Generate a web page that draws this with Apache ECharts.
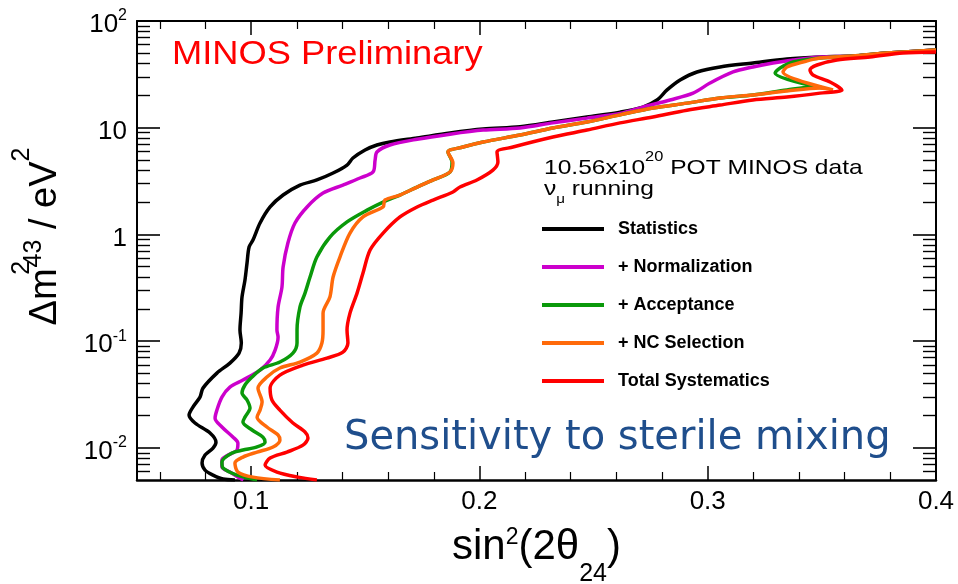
<!DOCTYPE html>
<html>
<head>
<meta charset="utf-8">
<script src="https://cdn.jsdelivr.net/npm/echarts@6/dist/echarts.min.js"></script>
<style>
  html, body { margin: 0; padding: 0; background: #ffffff; }
  #chart { width: 958px; height: 584px; }
</style>
</head>
<body>
<div id="chart"></div>
<script>
// Exclusion contours: [sin^2(2θ24), Δm^2_43 (eV^2)], from the bottom of the range upward.
const curveNames = ['Statistics', '+ Normalization', '+ Acceptance', '+ NC Selection', 'Total Systematics'];

const statistics = [
  [0.0929,0.005],[0.0877,0.0051],[0.0833,0.00556],[0.0798,0.00619],[0.0785,0.0072],[0.0798,0.00856],
  [0.0833,0.00996],[0.0846,0.0113],[0.082,0.0138],[0.0754,0.0171],[0.0728,0.0203],[0.0745,0.0241],
  [0.0776,0.0299],[0.0789,0.0363],[0.085,0.0502],[0.0907,0.0623],[0.0947,0.0773],[0.0957,0.096],
  [0.0951,0.127],[0.0956,0.183],[0.096,0.259],[0.0973,0.374],[0.0982,0.54],[0.0991,0.762],
  [0.1008,0.886],[0.1039,1.28],[0.1083,1.81],[0.114,2.34],[0.1214,2.9],[0.1288,3.24],[0.1359,3.76],
  [0.142,4.47],[0.1446,5.2],[0.1499,6.18],[0.1551,6.89],[0.1608,7.35],[0.1727,8.01],[0.1871,8.92],
  [0.2016,9.72],[0.2178,10.2],[0.2322,11.3],[0.2471,12.6],[0.2616,14.0],[0.2716,15.6],[0.2778,18.2],
  [0.2822,22.6],[0.2879,28.0],[0.2953,33.3],[0.3054,37.1],[0.3198,40.4],[0.3347,44.0],[0.3492,46.0],
  [0.3636,47.0],[0.3785,50.1],[0.4,53.5]
];

const normalization = [
  [0.0966,0.005],[0.0938,0.0054],[0.0907,0.00593],[0.0872,0.00661],[0.0872,0.00769],[0.0899,0.00856],
  [0.0938,0.00954],[0.0942,0.0111],[0.0921,0.0126],[0.0872,0.0157],[0.0842,0.019],[0.085,0.0226],
  [0.0872,0.0299],[0.0907,0.0371],[0.0964,0.0432],[0.1039,0.0536],[0.1083,0.0665],[0.1105,0.0825],
  [0.1118,0.109],[0.1113,0.127],[0.1118,0.209],[0.1135,0.321],[0.114,0.495],[0.1161,0.831],
  [0.1192,1.28],[0.1245,1.81],[0.1315,2.44],[0.1402,2.9],[0.1477,3.38],[0.1534,3.85],[0.1543,4.98],
  [0.1551,5.92],[0.1608,6.89],[0.1727,7.8],[0.1871,8.7],[0.2016,9.5],[0.2178,9.94],[0.2322,11.1],
  [0.2471,12.3],[0.2616,13.6],[0.2716,15.6],[0.2835,18.2],[0.2936,21.1],[0.301,26.2],[0.3111,33.3],
  [0.3198,37.1],[0.3286,40.4],[0.3374,43.1],[0.3492,46.0],[0.3636,47.0],[0.3785,50.1],[0.4,53.5]
];

const acceptance = [
  [0.1026,0.005],[0.0938,0.00556],[0.0877,0.00647],[0.0872,0.00736],[0.0916,0.00894],[0.0964,0.00954],
  [0.1026,0.0102],[0.1061,0.0113],[0.1052,0.0126],[0.1004,0.0147],[0.0964,0.0175],[0.0973,0.0194],
  [0.0995,0.0236],[0.0982,0.0281],[0.096,0.0326],[0.0973,0.0388],[0.1004,0.0461],[0.1052,0.056],
  [0.1126,0.0637],[0.1183,0.0773],[0.1201,0.096],[0.1201,0.127],[0.1214,0.209],[0.1236,0.282],
  [0.1258,0.399],[0.1288,0.614],[0.1345,0.945],[0.142,1.31],[0.1508,1.69],[0.1578,2.01],[0.1652,2.34],
  [0.1727,2.78],[0.1797,3.24],[0.1871,3.85],[0.188,4.77],[0.1862,5.92],[0.1928,6.59],[0.2016,7.35],
  [0.2178,8.54],[0.2322,9.94],[0.2471,11.3],[0.2616,13.2],[0.276,15.3],[0.2909,17.0],[0.3054,19.0],
  [0.3198,20.3],[0.3347,22.6],[0.3461,24.1],[0.3505,23.6],[0.3295,32.6],[0.3317,36.3],[0.3374,41.3],
  [0.3492,45.0],[0.3636,47.0],[0.3785,50.1],[0.4,53.5]
];

const ncSelection = [
  [0.1126,0.005],[0.1008,0.00532],[0.0942,0.00593],[0.0929,0.0072],[0.0964,0.0082],[0.1026,0.00913],
  [0.1096,0.0102],[0.1126,0.0118],[0.1118,0.0132],[0.1069,0.0157],[0.1026,0.0194],[0.1039,0.0226],
  [0.1048,0.0269],[0.103,0.0363],[0.1069,0.0461],[0.1126,0.056],[0.1214,0.0637],[0.1288,0.0773],
  [0.131,0.096],[0.1315,0.127],[0.1315,0.183],[0.1345,0.259],[0.1359,0.399],[0.1389,0.614],
  [0.1433,1.03],[0.149,1.46],[0.1578,1.81],[0.1586,2.10],[0.1652,2.34],[0.1727,2.78],[0.1797,3.24],
  [0.1871,3.85],[0.1884,4.67],[0.1862,5.92],[0.1928,6.59],[0.2016,7.35],[0.2178,8.54],[0.2322,9.94],
  [0.2471,11.3],[0.2616,13.2],[0.276,15.3],[0.2909,17.0],[0.3054,19.0],[0.3198,20.3],[0.3347,22.1],
  [0.3492,23.6],[0.3549,22.6],[0.333,33.3],[0.3347,37.1],[0.3417,41.3],[0.3492,45.0],[0.3636,47.0],
  [0.3785,50.1],[0.4,53.5]
];

const totalSystematics = [
  [0.1288,0.005],[0.1205,0.00532],[0.1113,0.00593],[0.1061,0.0069],[0.1083,0.00803],[0.1157,0.00913],
  [0.1227,0.0106],[0.1249,0.0124],[0.1236,0.0141],[0.1183,0.0171],[0.1126,0.0226],[0.1091,0.0281],
  [0.1083,0.0363],[0.1126,0.0481],[0.1227,0.0597],[0.1332,0.0694],[0.1402,0.079],[0.1424,0.096],
  [0.142,0.127],[0.1433,0.183],[0.1464,0.282],[0.149,0.435],[0.1521,0.714],[0.1578,1.03],
  [0.1652,1.46],[0.1727,1.81],[0.1797,2.10],[0.1884,2.50],[0.1915,2.78],[0.1989,3.24],[0.2059,4.01],
  [0.2081,4.77],[0.2077,5.92],[0.2147,6.59],[0.2322,8.18],[0.2471,9.51],[0.2616,11.1],[0.276,12.6],
  [0.2909,14.6],[0.3054,16.3],[0.3198,18.2],[0.3347,19.4],[0.3492,21.1],[0.3588,22.6],[0.3536,26.8],
  [0.3461,31.2],[0.3448,34.7],[0.3479,38.7],[0.3566,43.1],[0.3711,46.0],[0.3855,50.1],[0.4,51.2]
];

// Axis tick positions
const xMajorTicks = [0.1, 0.2, 0.3, 0.4];
const xMinorTicks = [0.06, 0.08, 0.12, 0.14, 0.16, 0.18, 0.22, 0.24, 0.26, 0.28, 0.32, 0.34, 0.36, 0.38];
const yMajorTicks = [0.01, 0.1, 1, 10, 100];
const yMinorTicks = [0.006, 0.007, 0.008, 0.009, 0.02, 0.03, 0.04, 0.05, 0.06, 0.07, 0.08, 0.09,
  0.2, 0.3, 0.4, 0.5, 0.6, 0.7, 0.8, 0.9, 2, 3, 4, 5, 6, 7, 8, 9, 20, 30, 40, 50, 60, 70, 80, 90];

const curves = [statistics, normalization, acceptance, ncSelection, totalSystematics];
const curveColors = ['#000000', '#cc00cc', '#0a990a', '#ff6a0a', '#ff0000'];

const SANS = "'Liberation Sans', Arial, Helvetica, sans-serif";
const INK = '#000000';

const chart = echarts.init(document.getElementById('chart'), null, { renderer: 'canvas' });

const xBase = {
  type: 'value', min: 0.05, max: 0.4,
  splitLine: { show: false },
  axisLine: { show: false, onZero: false },
  axisLabel: { show: false },
  axisTick: { show: false }
};
const yBase = {
  type: 'log', logBase: 10, min: 0.005, max: 100,
  splitLine: { show: false },
  axisLine: { show: false, onZero: false },
  axisLabel: { show: false },
  axisTick: { show: false },
  minorTick: { show: false }
};
const tick = (values, len, width) => ({
  show: true, inside: true, length: len, customValues: values,
  lineStyle: { color: INK, width: width }
});

function powerLabel(v) {
  const e = Math.round(Math.log10(v));
  if (e === 0) return '{b|1}';
  if (e === 1) return '{b|10}';
  return '{b|10}{s|' + e + '}';
}

const option = {
  animation: false,
  backgroundColor: '#ffffff',
  grid: { left: 137, top: 21, right: 22, bottom: 104, containLabel: false, outerBoundsMode: 'none' },
  xAxis: [
    Object.assign({}, xBase, {
      position: 'bottom',
      axisLine: { show: true, onZero: false, lineStyle: { color: INK, width: 2.5 } },
      axisTick: tick(xMajorTicks, 14, 1.5),
      axisLabel: {
        show: true, customValues: xMajorTicks, margin: 9,
        fontFamily: SANS, fontSize: 26, color: INK
      },
      name: '{b|sin}{sp|2}{b|(2θ}{sb|24}{b|)}',
      nameLocation: 'middle',
      nameGap: 46,
      nameMoveOverlap: false,
      nameTextStyle: {
        color: INK, fontFamily: SANS,
        rich: {
          b: { fontFamily: SANS, fontSize: 42, lineHeight: 42, verticalAlign: 'top', color: INK },
          sp: { fontFamily: SANS, fontSize: 23, lineHeight: 23, verticalAlign: 'top', color: INK },
          sb: { fontFamily: SANS, fontSize: 25, lineHeight: 25, verticalAlign: 'top', padding: [36, 0, 0, 0], color: INK }
        }
      }
    }),
    Object.assign({}, xBase, { position: 'bottom', axisTick: tick(xMinorTicks, 8, 1.2) }),
    Object.assign({}, xBase, {
      position: 'top',
      axisLine: { show: true, onZero: false, lineStyle: { color: INK, width: 2 } },
      axisTick: tick(xMajorTicks, 14, 1.5)
    }),
    Object.assign({}, xBase, { position: 'top', axisTick: tick(xMinorTicks, 8, 1.2) })
  ],
  yAxis: [
    Object.assign({}, yBase, {
      position: 'left',
      axisLine: { show: true, onZero: false, lineStyle: { color: INK, width: 2 } },
      axisTick: tick(yMajorTicks, 23, 1.6),
      axisLabel: {
        show: true, customValues: yMajorTicks, margin: 10,
        formatter: powerLabel,
        rich: {
          b: { fontFamily: SANS, fontSize: 26, lineHeight: 26, verticalAlign: 'top', padding: [4, 0, 0, 0], color: INK },
          s: { fontFamily: SANS, fontSize: 16, lineHeight: 16, verticalAlign: 'top', color: INK }
        }
      },
      name: '{b|Δm}{sp|2}{sb|43}{b| / eV}{sp2|2}',
      nameLocation: 'middle',
      nameRotate: 90,
      nameGap: 89,
      nameMoveOverlap: false,
      nameTextStyle: {
        color: INK, fontFamily: SANS, padding: [0, 0, 0, 28],
        rich: {
          b: { fontFamily: SANS, fontSize: 38, lineHeight: 38, verticalAlign: 'top', padding: [17, 0, 0, 0], color: INK },
          sp: { fontFamily: SANS, fontSize: 25, lineHeight: 25, verticalAlign: 'top', width: 1, color: INK },
          sb: { fontFamily: SANS, fontSize: 25, lineHeight: 25, verticalAlign: 'top', padding: [12, 0, 0, 0], color: INK },
          sp2: { fontFamily: SANS, fontSize: 25, lineHeight: 25, verticalAlign: 'top', color: INK }
        }
      }
    }),
    Object.assign({}, yBase, { position: 'left', axisTick: tick(yMinorTicks, 13, 1.4) }),
    Object.assign({}, yBase, {
      position: 'right',
      axisLine: { show: true, onZero: false, lineStyle: { color: INK, width: 2 } },
      axisTick: tick(yMajorTicks, 23, 1.6)
    }),
    Object.assign({}, yBase, { position: 'right', axisTick: tick(yMinorTicks, 13, 1.4) })
  ],
  legend: {
    data: curveNames,
    orient: 'vertical',
    left: 542,
    top: 220,
    padding: 0,
    icon: 'rect',
    itemWidth: 62,
    itemHeight: 4,
    itemGap: 20,
    selectedMode: false,
    textStyle: {
      fontFamily: SANS, fontWeight: 'bold', fontSize: 18, lineHeight: 18,
      color: INK, padding: [0, 0, 0, 9]
    }
  },
  graphic: [
    {
      type: 'text', x: 172, y: 54.5, scaleX: 1.1,
      style: { text: 'MINOS Preliminary', fill: '#ff0000', fontFamily: SANS, fontSize: 33,
               align: 'left', verticalAlign: 'middle' }
    },
    {
      type: 'text', x: 544, y: 161, scaleX: 1.17,
      style: {
        text: '{n|10.56x10}{s|20}{n| POT MINOS data}', fill: INK, align: 'left', verticalAlign: 'middle',
        rich: {
          n: { fontFamily: SANS, fontSize: 21, lineHeight: 21, verticalAlign: 'top', padding: [7, 0, 0, 0] },
          s: { fontFamily: SANS, fontSize: 14, lineHeight: 14, verticalAlign: 'top' }
        }
      }
    },
    {
      type: 'text', x: 544, y: 189, scaleX: 1.17,
      style: {
        text: '{n|ν}{u|μ}{n| running}', fill: INK, align: 'left', verticalAlign: 'middle',
        rich: {
          n: { fontFamily: SANS, fontSize: 21, lineHeight: 21, verticalAlign: 'top' },
          u: { fontFamily: SANS, fontSize: 13, lineHeight: 13, verticalAlign: 'top', padding: [14, 0, 0, 0] }
        }
      }
    },
    {
      type: 'text', x: 344, y: 439,
      style: { text: 'Sensitivity to sterile mixing', fill: '#1f4e8c', fontFamily: "'DejaVu Sans', Verdana, sans-serif",
               fontSize: 40, align: 'left', verticalAlign: 'middle' }
    }
  ],
  series: curves.map((pts, i) => ({
    name: curveNames[i],
    type: 'line',
    xAxisIndex: 0,
    yAxisIndex: 0,
    data: pts,
    symbol: 'none',
    showSymbol: false,
    smooth: 0.3,
    clip: true,
    lineStyle: { color: curveColors[i], width: 3.5 },
    itemStyle: { color: curveColors[i] },
    z: 2 + i
  }))
};

chart.setOption(option);
</script>
</body>
</html>
